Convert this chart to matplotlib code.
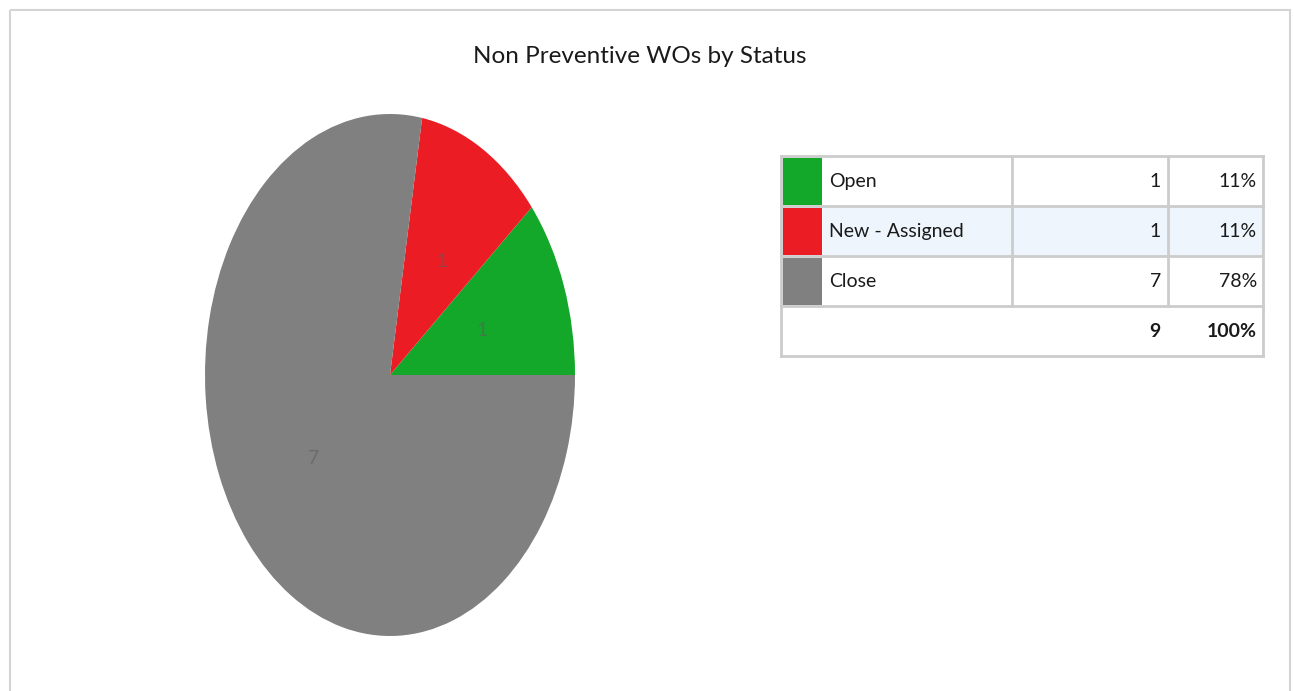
import matplotlib.pyplot as plt
from matplotlib.patches import Rectangle

# data
statuses = ["Open", "New - Assigned", "Close"]
counts = [1, 1, 7]
colours = ["#13a82a", "#ec1c24", "#808080"]
title = "Non Preventive WOs by Status"

plt.rcParams['font.family'] = ['Lato', 'DejaVu Sans']


def main():
    fig = plt.figure(figsize=(12.94, 6.91), dpi=100)
    fig.patch.set_facecolor("white")

    # background axes in pixel coords for frame + table
    bg = fig.add_axes([0, 0, 1, 1])
    bg.set_xlim(0, 1294)
    bg.set_ylim(691, 0)
    bg.axis("off")

    # outer frame
    bg.add_patch(Rectangle((10, 10), 1280, 700, fill=False,
                           edgecolor="#d4d4d4", linewidth=1.5))
    bg.text(640, 56, title, ha="center", va="center", fontsize=17.5,
            color="#1a1a1a")

    # pie, stretched into an ellipse
    cx, cy, rx, ry = 390, 375, 185, 261
    pie_ax = fig.add_axes([(cx - rx) / 1294, (691 - cy - ry) / 691,
                           2 * rx / 1294, 2 * ry / 691])
    wedges, texts = pie_ax.pie(counts, colors=colours, startangle=0,
                               counterclock=True, labels=[str(c) for c in counts],
                               labeldistance=0.5, radius=1,
                               wedgeprops={"linewidth": 0})
    for t in texts:
        t.set_color("#5e5e5e")
        t.set_fontsize(14)
        t.set_alpha(0.6)
    pie_ax.set_aspect("auto")
    pie_ax.set_xlim(-1, 1)
    pie_ax.set_ylim(-1, 1)

    # table
    total = sum(counts)
    left, right = 781, 1263
    top, rowh = 156, 50
    col_sw, col_lab, col_cnt = 823, 1012, 1168
    grid = "#cccccc"
    fs = 14
    for i, (name, c) in enumerate(zip(statuses, counts)):
        y0 = top + i * rowh
        if i == 1:
            bg.add_patch(Rectangle((col_sw, y0), right - col_sw, rowh,
                                   facecolor="#eef5fc", edgecolor="none"))
        bg.add_patch(Rectangle((left + 2, y0 + 2), col_sw - left - 3, rowh - 3,
                               facecolor=colours[i], edgecolor="none"))
        bg.text(col_sw + 6, y0 + rowh / 2, name, ha="left", va="center",
                fontsize=fs, color="#1a1a1a")
        bg.text(col_cnt - 7, y0 + rowh / 2, str(c), ha="right", va="center",
                fontsize=fs, color="#1a1a1a")
        bg.text(right - 6, y0 + rowh / 2, "%d%%" % round(100 * c / total),
                ha="right", va="center", fontsize=fs, color="#1a1a1a")
        bg.plot([left, right], [y0, y0], color=grid, lw=2)
        for xv in (col_lab, col_cnt):
            bg.plot([xv, xv], [y0, y0 + rowh], color=grid, lw=2)
    y0 = top + 3 * rowh
    bg.plot([left, right], [y0, y0], color=grid, lw=2)
    bg.plot([left, right], [y0 + rowh, y0 + rowh], color=grid, lw=2)
    bg.plot([left, left], [top, y0 + rowh], color=grid, lw=2)
    bg.plot([right, right], [top, y0 + rowh], color=grid, lw=2)
    bg.text(col_cnt - 7, y0 + rowh / 2, str(total), ha="right", va="center",
            fontsize=fs, fontweight="bold", color="#1a1a1a")
    bg.text(right - 6, y0 + rowh / 2, "100%", ha="right", va="center",
            fontsize=fs, fontweight="bold", color="#1a1a1a")

    fig.savefig("out.png", dpi=100)
    plt.close()


if __name__ == "__main__":
    main()
